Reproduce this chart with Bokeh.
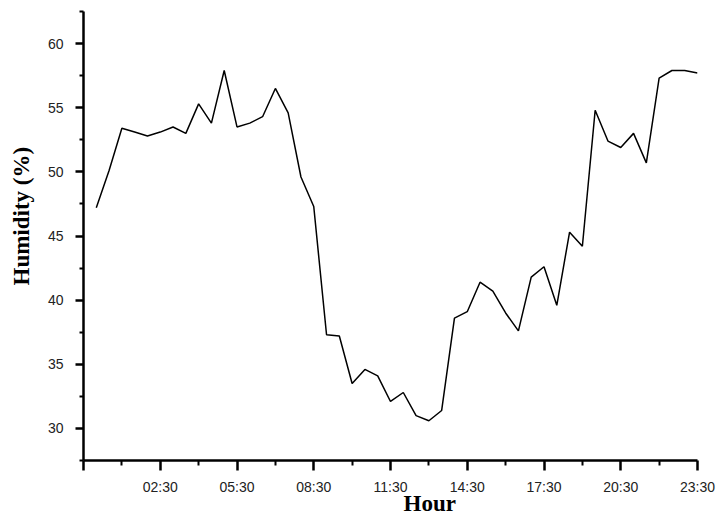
from bokeh.plotting import figure
from bokeh.models import FixedTicker, Range1d, Title
from bokeh.embed import file_html
from bokeh.resources import INLINE

# Half-hourly readings, 00:00 .. 23:30 (hours)
hours = [i * 0.5 for i in range(48)]
humidity = [
    47.2, 50.1, 53.4, 53.1, 52.8, 53.1, 53.5, 53.0, 55.3, 53.8,
    57.9, 53.5, 53.8, 54.3, 56.5, 54.6, 49.6, 47.3, 37.3, 37.2,
    33.5, 34.6, 34.1, 32.1, 32.8, 31.0, 30.6, 31.4, 38.6, 39.1,
    41.4, 40.7, 39.0, 37.6, 41.8, 42.6, 39.6, 45.3, 44.2, 54.8,
    52.4, 51.9, 53.0, 50.7, 57.3, 57.9, 57.9, 57.7,
]

x_major = [-0.5, 2.5, 5.5, 8.5, 11.5, 14.5, 17.5, 20.5, 23.5]
x_labels = ["", "02:30", "05:30", "08:30", "11:30", "14:30", "17:30", "20:30", "23:30"]
x_minor = [1.0, 4.0, 7.0, 10.0, 13.0, 16.0, 19.0, 22.0]
y_major = [30, 35, 40, 45, 50, 55, 60]
y_minor = [27.5, 32.5, 37.5, 42.5, 47.5, 52.5, 57.5, 62.5]
x_title = "Hour"
y_title = "Humidity (%)"

p = figure(width=718, height=516, output_backend="svg", toolbar_location=None,
           x_range=Range1d(-0.5, 23.5), y_range=Range1d(27.5, 62.5),
           min_border_left=83, min_border_right=21, min_border_top=11, min_border_bottom=56)
p.background_fill_color = "white"
p.border_fill_color = "white"
p.outline_line_color = None
p.grid.visible = False

p.line(hours, humidity, line_color="black", line_width=1.5)

p.xaxis.ticker = FixedTicker(ticks=x_major, minor_ticks=x_minor)
p.xaxis.major_label_overrides = {v: l for v, l in zip(x_major, x_labels)}
p.yaxis.ticker = FixedTicker(ticks=y_major, minor_ticks=y_minor)

for ax in (p.xaxis[0], p.yaxis[0]):
    ax.axis_line_color = "black"
    ax.axis_line_width = 2.5
    ax.major_tick_line_color = "black"
    ax.major_tick_line_width = 2.5
    ax.minor_tick_line_color = "black"
    ax.minor_tick_line_width = 2
    ax.major_tick_in = 0
    ax.minor_tick_in = 0
    ax.major_label_text_font = "Liberation Sans"
    ax.major_label_text_font_size = "14px"
    ax.major_label_text_color = "#222222"

p.xaxis.major_tick_out = 10
p.xaxis.minor_tick_out = 5
p.yaxis.major_tick_out = 8
p.yaxis.minor_tick_out = 4
p.xaxis.major_label_standoff = 8
p.yaxis.major_label_standoff = 12

title_style = dict(text_font="Liberation Serif", text_font_style="bold",
                   text_font_size="23px", text_color="black")
p.add_layout(Title(text=x_title, align="left", offset=320, standoff=-14,
                   vertical_align="top", **title_style), "below")
p.add_layout(Title(text=y_title, align="left", offset=175, standoff=17,
                   vertical_align="top", **title_style), "left")

open("out.html", "w").write(file_html(p, INLINE))
